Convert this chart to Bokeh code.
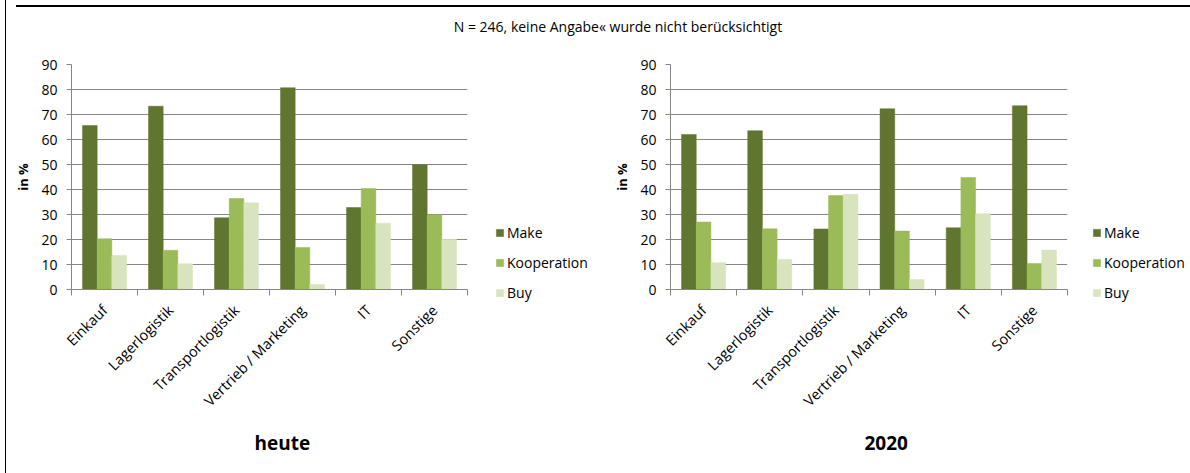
import numpy as np
from bokeh.plotting import figure
from bokeh.models import (Range1d, FixedTicker, CustomJSTickFormatter, Legend,
                          LegendItem, Title, Div, ColumnDataSource)
from bokeh.layouts import column, row
from bokeh.transform import dodge
from bokeh.embed import file_html
from bokeh.resources import INLINE

categories = ["Einkauf", "Lagerlogistik", "Transportlogistik",
              "Vertrieb / Marketing", "IT", "Sonstige"]
series = ["Make", "Kooperation", "Buy"]
heute_make = [65.6, 73.3, 28.7, 80.7, 32.8, 49.9]
heute_kooperation = [20.3, 15.7, 36.4, 16.8, 40.4, 29.9]
heute_buy = [13.6, 10.3, 34.7, 2.0, 26.5, 20.1]
y2020_make = [62.0, 63.5, 24.2, 72.3, 24.7, 73.5]
y2020_kooperation = [27.0, 24.3, 37.6, 23.4, 44.8, 10.4]
y2020_buy = [10.7, 12.0, 38.1, 4.0, 30.3, 15.8]
y_ticks = [0, 10, 20, 30, 40, 50, 60, 70, 80, 90]
note = "N = 246, keine Angabe« wurde nicht berücksichtigt"
titles = ["heute", "2020"]

colors = ["#5f7530", "#9bbb59", "#d7e4bd"]
GRID = "#868686"
FONT = "Open Sans"
H = 425
TOP = 14
FRAME_W, FRAME_H = 397, 225
BAR_W = 0.222


def bars(p, src):
    rs = []
    for off, col, c in zip([-BAR_W, 0, BAR_W], ["make", "koop", "buy"], colors):
        rs.append(p.vbar(x=dodge("x", off), top=col, width=BAR_W, bottom=0, source=src,
                         fill_color=c, line_color=c, line_width=0.5))
    return rs


def make_chart(title, make, koop, buy, min_left, title_off, title_standoff):
    n = len(categories)
    centers = list(np.arange(n) + 0.5)
    bounds = list(range(n + 1))
    src = ColumnDataSource(dict(x=centers, make=make, koop=koop, buy=buy))
    p = figure(width=min_left + FRAME_W + 5, height=H, output_backend="svg",
               toolbar_location=None,
               x_range=Range1d(0, n), y_range=Range1d(0, max(y_ticks)),
               min_border_left=min_left, min_border_right=5,
               min_border_top=TOP, min_border_bottom=H - TOP - FRAME_H)
    p.outline_line_color = None
    p.background_fill_color = "white"
    p.border_fill_color = "white"
    bars(p, src)

    xa = p.xaxis[0]
    xa.ticker = FixedTicker(ticks=centers, minor_ticks=bounds)
    xa.formatter = CustomJSTickFormatter(args=dict(cats=categories),
                                         code="return cats[Math.floor(tick)];")
    xa.major_label_orientation = np.pi / 4
    xa.major_tick_line_color = None
    xa.major_tick_out = 6
    xa.major_tick_in = 0
    xa.minor_tick_out = 6
    xa.minor_tick_in = 0
    xa.minor_tick_line_color = GRID
    xa.axis_line_color = GRID
    xa.major_label_text_font = FONT
    xa.major_label_text_font_size = "14.5px"
    xa.major_label_text_color = "black"
    xa.major_label_standoff = 12

    ya = p.yaxis[0]
    ya.ticker = FixedTicker(ticks=y_ticks, minor_ticks=[])
    ya.major_tick_out = 5
    ya.major_tick_in = 0
    ya.major_tick_line_color = GRID
    ya.axis_line_color = GRID
    ya.major_label_text_font = FONT
    ya.major_label_text_font_size = "14px"
    ya.major_label_text_color = "black"
    ya.major_label_standoff = 9
    ya.axis_label = "in %"
    ya.axis_label_text_font = FONT
    ya.axis_label_text_font_size = "13px"
    ya.axis_label_text_font_style = "bold"
    ya.axis_label_text_color = "black"
    ya.axis_label_standoff = 6

    p.xgrid.grid_line_color = None
    p.ygrid.ticker = FixedTicker(ticks=y_ticks)
    p.ygrid.grid_line_color = GRID
    p.ygrid.grid_line_width = 1

    t = Title(text=title, align="left", offset=title_off, standoff=title_standoff,
              vertical_align="top",
              text_font=FONT, text_font_size="19px", text_font_style="bold",
              text_color="black")
    p.add_layout(t, "below")
    return p


def make_legend(make, koop, buy, width, leg_x):
    # a small panel beside the chart that carries the series legend
    n = len(categories)
    src = ColumnDataSource(dict(x=list(np.arange(n) + 0.5), make=make, koop=koop, buy=buy))
    p = figure(width=width, height=H, output_backend="svg", toolbar_location=None,
               x_range=Range1d(-20, -10), y_range=Range1d(0, max(y_ticks)),
               x_axis_location=None, y_axis_location=None,
               min_border=0, min_border_left=0, min_border_right=0,
               min_border_top=0, min_border_bottom=0, frame_align=False)
    p.outline_line_color = None
    p.xgrid.visible = False
    p.ygrid.visible = False
    rs = bars(p, src)
    items = [LegendItem(label=s, renderers=[r]) for s, r in zip(series, rs)]
    leg = Legend(items=items, location=(leg_x, 173))
    leg.padding = 0
    leg.margin = 0
    leg.border_line_color = None
    leg.background_fill_alpha = 0
    leg.glyph_width = 9
    leg.glyph_height = 9
    leg.label_standoff = 3
    leg.spacing = 11
    leg.label_text_font = FONT
    leg.label_text_font_size = "14px"
    leg.label_text_color = "black"
    p.add_layout(leg)
    return p


p1 = make_chart(titles[0], heute_make, heute_kooperation, heute_buy, 59, 183, 20)
l1 = make_legend(heute_make, heute_kooperation, heute_buy, 130, 23)
p2 = make_chart(titles[1], y2020_make, y2020_kooperation, y2020_buy, 68, 194, 33)
l2 = make_legend(y2020_make, y2020_kooperation, y2020_buy, 120, 20)

top = Div(text=("<div style=\"box-sizing:border-box;width:1181px;height:40px;"
                "border-top:2px solid black;"
                "text-align:center;font-family:'Open Sans';font-size:14px;"
                "color:black;padding-left:23px;padding-top:10px;white-space:nowrap\">"
                + note + "</div>"),
          width=1181, height=40)
left_border = Div(text=("<div style=\"width:1px;height:480px;margin-top:-6px;"
                        "background:black\"></div>"),
                  width=1, height=465)

layout = row(left_border,
             column(top, row(p1, l1, p2, l2, spacing=0), spacing=0),
             spacing=0)

open("out.html", "w").write(file_html(layout, INLINE))
